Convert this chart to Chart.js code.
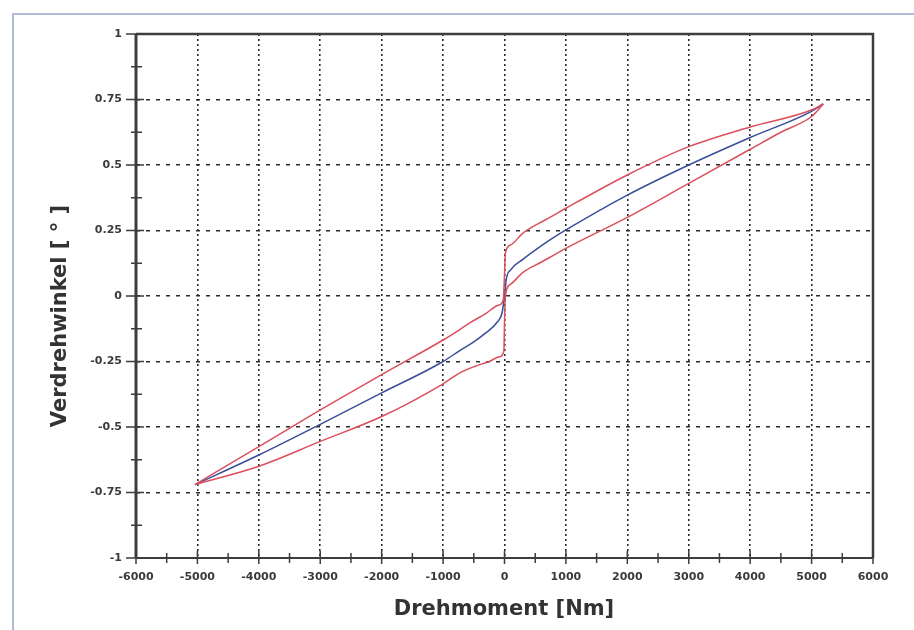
<!DOCTYPE html>
<html>
<head>
<meta charset="utf-8">
<script src="https://cdn.jsdelivr.net/npm/chart.js@4.4.1/dist/chart.umd.min.js"></script>
<style>
  body { margin: 0; background: #fff; }
  #wrap { width: 914px; height: 630px; }
</style>
</head>
<body>
<div id="wrap"><canvas id="chart" width="914" height="630"></canvas></div>
<script>
const X_TICKS = [-6000, -5000, -4000, -3000, -2000, -1000, 0, 1000, 2000, 3000, 4000, 5000, 6000];
const Y_TICKS = [-1, -0.75, -0.5, -0.25, 0, 0.25, 0.5, 0.75, 1];

// mittlere Kennlinie (blau)
const MID_TORQUE = [-5040, -4000, -3000, -2000, -1000, -740, -500, -300, -120, -40, 0, 30, 100, 300, 500, 740, 1000, 2000, 3000, 4000, 5000, 5190];
const MID_ANGLE = [-0.72, -0.607, -0.49, -0.37, -0.25, -0.21, -0.175, -0.14, -0.1, -0.065, 0, 0.065, 0.1, 0.14, 0.175, 0.214, 0.252, 0.385, 0.5, 0.605, 0.705, 0.733];

// Belastungsast (rot, unten)
const LOAD_TORQUE = [-5040, -4000, -3000, -2000, -1000, -740, -500, -250, -80, -10, 0, 15, 100, 300, 580, 740, 1000, 2000, 3000, 4000, 4500, 5000, 5190];
const LOAD_ANGLE = [-0.72, -0.65, -0.555, -0.46, -0.335, -0.295, -0.27, -0.25, -0.232, -0.21, -0.1, 0.0, 0.045, 0.09, 0.127, 0.148, 0.182, 0.3, 0.43, 0.56, 0.625, 0.685, 0.733];

// Entlastungsast (rot, oben)
const UNLOAD_TORQUE = [-5040, -4000, -3000, -2000, -1000, -740, -560, -300, -100, -20, 0, 15, 100, 300, 580, 740, 1000, 2000, 3000, 4000, 5000, 5190];
const UNLOAD_ANGLE = [-0.72, -0.575, -0.435, -0.30, -0.168, -0.13, -0.102, -0.066, -0.035, -0.015, 0.08, 0.165, 0.195, 0.24, 0.28, 0.3, 0.335, 0.462, 0.57, 0.645, 0.71, 0.733];

const RED = "#dc4f5e";
const BLUE = "#3a4d9a";
const AXIS = "#3d3d3d";
const TICK_FONT = { family: "DejaVu Sans", weight: "bold", size: 11 };

function toPoints(xs, ys) {
  return xs.map((x, i) => ({ x, y: ys[i] }));
}

function curve(xs, ys, color) {
  return {
    data: toPoints(xs, ys),
    borderColor: color,
    borderWidth: 1.5,
    pointRadius: 0,
    showLine: true,
    fill: false,
    cubicInterpolationMode: "monotone",
  };
}

const framePlugin = {
  id: "frame",
  beforeDraw(chart) {
    const ctx = chart.ctx;
    ctx.save();
    ctx.strokeStyle = "#aebbd3";
    ctx.lineWidth = 2;
    ctx.beginPath();
    ctx.moveTo(13, 630);
    ctx.lineTo(13, 14);
    ctx.lineTo(914, 14);
    ctx.stroke();
    ctx.restore();
  },
  afterDraw(chart) {
    const { ctx, chartArea: a, scales } = chart;
    const xs = scales.x, ys = scales.y;
    ctx.save();
    ctx.strokeStyle = AXIS;
    // top + right
    ctx.lineWidth = 2.5;
    ctx.beginPath();
    ctx.moveTo(a.left, a.top);
    ctx.lineTo(a.right, a.top);
    ctx.lineTo(a.right, a.bottom);
    ctx.stroke();
    // bottom axis
    ctx.lineWidth = 2;
    ctx.beginPath();
    ctx.moveTo(a.left, a.bottom);
    ctx.lineTo(a.right, a.bottom);
    ctx.stroke();
    // left axis
    ctx.lineWidth = 3;
    ctx.beginPath();
    ctx.moveTo(a.left, a.top);
    ctx.lineTo(a.left, a.bottom);
    ctx.stroke();

    // ticks crossing the axes
    ctx.lineWidth = 1.5;
    ctx.beginPath();
    X_TICKS.forEach((v, i) => {
      const px = xs.getPixelForValue(v);
      ctx.moveTo(px, a.bottom - 7);
      ctx.lineTo(px, a.bottom + 6);
      if (i < X_TICKS.length - 1) {
        const mx = xs.getPixelForValue((v + X_TICKS[i + 1]) / 2);
        ctx.moveTo(mx, a.bottom - 5);
        ctx.lineTo(mx, a.bottom + 5);
      }
    });
    Y_TICKS.forEach((v, i) => {
      const py = ys.getPixelForValue(v);
      ctx.moveTo(a.left - 10, py);
      ctx.lineTo(a.left + 8, py);
      if (i < Y_TICKS.length - 1) {
        const my = ys.getPixelForValue((v + Y_TICKS[i + 1]) / 2);
        ctx.moveTo(a.left - 5, my);
        ctx.lineTo(a.left + 6, my);
      }
    });
    ctx.stroke();

    // axis titles
    ctx.fillStyle = "#333";
    ctx.font = "bold 21px 'DejaVu Sans'";
    ctx.textAlign = "center";
    ctx.textBaseline = "middle";
    ctx.fillText("Drehmoment [Nm]", 504, 610);
    ctx.translate(61, 316);
    ctx.rotate(-Math.PI / 2);
    ctx.fillText("Verdrehwinkel [ ° ]", 0, 0);
    ctx.restore();
  },
};

function hideEdges(values) {
  const lo = values[0], hi = values[values.length - 1];
  return (c) => (c.tick && (c.tick.value === lo || c.tick.value === hi) ? "rgba(0,0,0,0)" : "#2b2b2b");
}

new Chart(document.getElementById("chart"), {
  type: "scatter",
  data: {
    datasets: [
      curve(LOAD_TORQUE, LOAD_ANGLE, RED),
      curve(UNLOAD_TORQUE, UNLOAD_ANGLE, RED),
      curve(MID_TORQUE, MID_ANGLE, BLUE),
    ],
  },
  options: {
    responsive: false,
    animation: false,
    layout: { padding: { top: 34, right: 41, bottom: 0, left: 0 } },
    plugins: { legend: { display: false }, tooltip: { enabled: false } },
    scales: {
      x: {
        type: "linear",
        min: -6000,
        max: 6000,
        afterBuildTicks: (s) => { s.ticks = X_TICKS.map((v) => ({ value: v })); },
        afterFit: (s) => { s.height = 72; },
        ticks: { color: "#3a3a3a", font: TICK_FONT, padding: 13, maxRotation: 0, callback: (v) => String(v) },
        grid: { color: hideEdges(X_TICKS), lineWidth: 1.6, drawTicks: false },
        border: { display: false, dash: [2, 3] },
      },
      y: {
        type: "linear",
        min: -1,
        max: 1,
        afterBuildTicks: (s) => { s.ticks = Y_TICKS.map((v) => ({ value: v })); },
        afterFit: (s) => { s.width = 136; },
        ticks: { color: "#3a3a3a", font: TICK_FONT, padding: 14, callback: (v) => String(v) },
        grid: { color: hideEdges(Y_TICKS), lineWidth: 1.6, drawTicks: false },
        border: { display: false, dash: [4, 6] },
      },
    },
  },
  plugins: [framePlugin],
});
</script>
</body>
</html>
